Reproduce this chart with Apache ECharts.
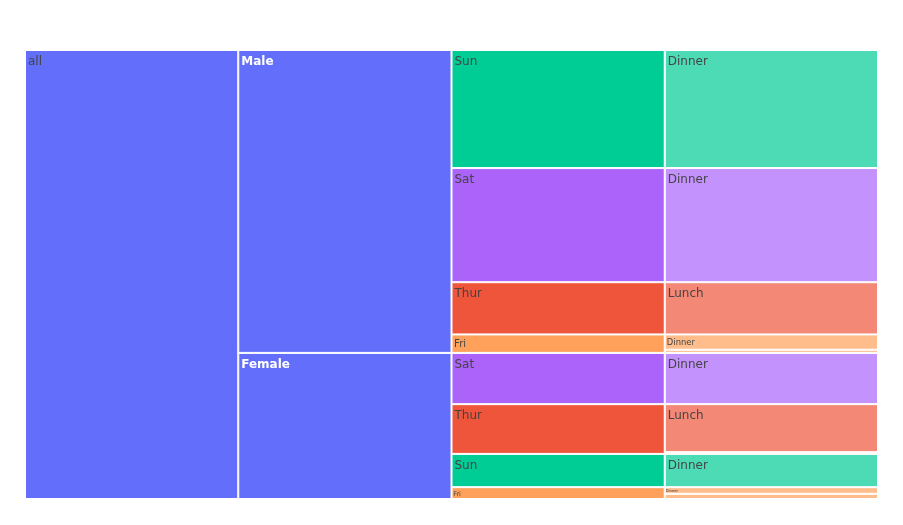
<!DOCTYPE html>
<html>
<head>
<meta charset="utf-8">
<script src="https://cdn.jsdelivr.net/npm/echarts@6/dist/echarts.min.js"></script>
<style>html,body{margin:0;padding:0;background:#fff}#c{width:903px;height:525px}</style>
</head>
<body>
<div id="c"></div>
<script>
// ---- data (tips dataset, total_bill sums) ----
const levels = ['root', 'sex', 'day', 'time'];
const rootLabel = 'all';
const sexes = ['Male', 'Female'];
const sexValues = [3256.82, 1570.95];
const maleDays = ['Sun', 'Sat', 'Thur', 'Fri'];
const maleDayValues = [1269.46, 1227.35, 561.44, 198.57];
const femaleDays = ['Sat', 'Thur', 'Sun', 'Fri'];
const femaleDayValues = [551.05, 534.89, 357.70, 127.31];
const maleTimes = [['Dinner'], ['Dinner'], ['Lunch'], ['Dinner', 'Lunch']];
const maleTimeValues = [[1269.46], [1227.35], [561.44], [164.41, 34.16]];
const femaleTimes = [['Dinner'], ['Lunch', 'Dinner'], ['Dinner'], ['Dinner', 'Lunch']];
const femaleTimeValues = [[551.05], [516.11, 18.78], [357.70], [71.55, 55.76]];

// ---- styles ----
const dayColors = { Sun: '#00cc96', Sat: '#ab63fa', Thur: '#EF553B', Fri: '#FFA15A' };
const baseColor = '#636efa';
const plotTop = 50, plotBottom = 499;
const plotH = plotBottom - plotTop;

function blend(hex, a) {
  const n = parseInt(hex.slice(1), 16);
  const r = (n >> 16) & 255, g = (n >> 8) & 255, b = n & 255;
  const f = c => Math.round(c * a + 255 * (1 - a));
  return 'rgb(' + f(r) + ',' + f(g) + ',' + f(b) + ')';
}

const total = sexValues.reduce((s, v) => s + v, 0);

const series = [];
function addNode(col, name, value, color, textColor, bold) {
  const h = value / total * plotH;
  const fs = Math.min(12, h * 0.55);
  const sc = fs / 12;
  const data = [null, null, null, null];
  data[col] = value;
  series.push({
    type: 'bar',
    stack: 'icicle',
    name: name,
    data: data,
    barWidth: '100%',
    barCategoryGap: 0,
    itemStyle: { color: color, borderColor: '#ffffff', borderWidth: 1 },
    label: {
      show: fs >= 3.5,
      position: 'insideTopLeft',
      distance: Math.max(1, 3 * sc),
      offset: [0, 3 * sc],
      formatter: name,
      fontFamily: '"DejaVu Sans", verdana, sans-serif',
      fontSize: fs,
      fontWeight: bold ? 'bold' : 'normal',
      color: textColor
    },
    emphasis: { disabled: true },
    animation: false
  });
}

addNode(0, rootLabel, total, baseColor, '#444', false);
const dayLists = [maleDays, femaleDays];
const dayVals = [maleDayValues, femaleDayValues];
const timeLists = [maleTimes, femaleTimes];
const timeVals = [maleTimeValues, femaleTimeValues];
sexes.forEach((s, i) => addNode(1, s, sexValues[i], baseColor, '#ffffff', true));
sexes.forEach((s, i) => {
  dayLists[i].forEach((d, j) => addNode(2, d, dayVals[i][j], dayColors[d], '#444', false));
});
sexes.forEach((s, i) => {
  dayLists[i].forEach((d, j) => {
    timeLists[i][j].forEach((t, k) => addNode(3, t, timeVals[i][j][k], blend(dayColors[d], 0.7), '#444', false));
  });
});

const chart = echarts.init(document.getElementById('c'), null, { renderer: 'canvas' });
chart.setOption({
  backgroundColor: '#ffffff',
  animation: false,
  grid: { left: 25, right: 25, top: plotTop, bottom: 525 - plotBottom, containLabel: false },
  xAxis: { type: 'category', data: levels, show: false, boundaryGap: true },
  yAxis: { type: 'value', min: 0, max: total, inverse: true, show: false },
  tooltip: { show: false },
  series: series
});
</script>
</body>
</html>
